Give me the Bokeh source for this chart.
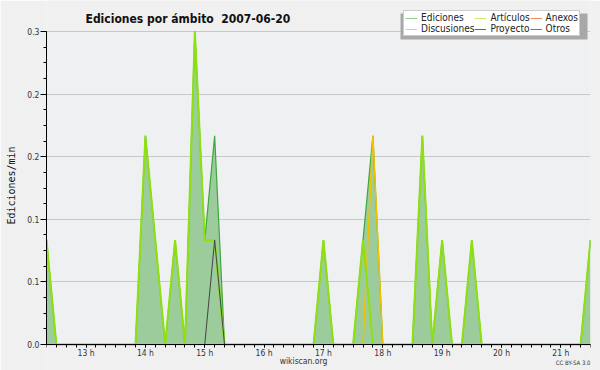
from bokeh.plotting import figure
from bokeh.models import (FixedTicker, Label, Legend, LegendItem, ColumnDataSource,
                          PrintfTickFormatter, CustomJSTickFormatter, Range1d, BoxAnnotation)
from bokeh.embed import file_html
from bokeh.resources import INLINE

# ---- data: 10-minute bins from 12:20 to 21:30 (hours as decimals) ----
inicio = 12 + 20 / 60
fin = 21.5
paso = 1 / 6
horas = [inicio + i * paso for i in range(56)]

ediciones = [
    0.1, 0, 0, 0, 0, 0, 0, 0, 0, 0,
    0.2, 0.1, 0, 0.1, 0, 0.3, 0.1, 0.2, 0, 0,
    0, 0, 0, 0, 0, 0, 0, 0, 0.1, 0,
    0, 0, 0.1, 0.2, 0, 0, 0, 0, 0.2, 0,
    0.1, 0, 0, 0.1, 0, 0, 0, 0, 0, 0,
    0, 0, 0, 0, 0, 0.1]
articulos = [
    0.1, 0, 0, 0, 0, 0, 0, 0, 0, 0,
    0.2, 0.1, 0, 0.1, 0, 0.3, 0.1, 0.1, 0, 0,
    0, 0, 0, 0, 0, 0, 0, 0, 0.1, 0,
    0, 0, 0.1, 0, 0, 0, 0, 0, 0.2, 0,
    0.1, 0, 0, 0.1, 0, 0, 0, 0, 0, 0,
    0, 0, 0, 0, 0, 0.1]
discusiones = [
    0, 0, 0, 0, 0, 0, 0, 0, 0, 0,
    0, 0, 0, 0, 0, 0, 0, 0, 0, 0,
    0, 0, 0, 0, 0, 0, 0, 0, 0, 0,
    0, 0, 0, 0.2, 0, 0, 0, 0, 0, 0,
    0, 0, 0, 0, 0, 0, 0, 0, 0, 0,
    0, 0, 0, 0, 0, 0]
proyecto = [
    0, 0, 0, 0, 0, 0, 0, 0, 0, 0,
    0, 0, 0, 0, 0, 0, 0, 0.1, 0, 0,
    0, 0, 0, 0, 0, 0, 0, 0, 0, 0,
    0, 0, 0, 0, 0, 0, 0, 0, 0, 0,
    0, 0, 0, 0, 0, 0, 0, 0, 0, 0,
    0, 0, 0, 0, 0, 0]
anexos = [
    0, 0, 0, 0, 0, 0, 0, 0, 0, 0,
    0, 0, 0, 0, 0, 0, 0, 0, 0, 0,
    0, 0, 0, 0, 0, 0, 0, 0, 0, 0,
    0, 0, 0, 0, 0, 0, 0, 0, 0, 0,
    0, 0, 0, 0, 0, 0, 0, 0, 0, 0,
    0, 0, 0, 0, 0, 0]
otros = [
    0, 0, 0, 0, 0, 0, 0, 0, 0, 0,
    0, 0, 0, 0, 0, 0, 0, 0, 0, 0,
    0, 0, 0, 0, 0, 0, 0, 0, 0, 0,
    0, 0, 0, 0, 0, 0, 0, 0, 0, 0,
    0, 0, 0, 0, 0, 0, 0, 0, 0, 0,
    0, 0, 0, 0, 0, 0]

y_ticks = [0, 0.06, 0.12, 0.18, 0.24, 0.3]
y_max = 0.3
x_ticks = [13, 14, 15, 16, 17, 18, 19, 20, 21]
series_names = ["Ediciones", "Discusiones", "Artículos", "Proyecto", "Anexos", "Otros"]
legend_colors = ["#8fcf8f", "#f5d040", "#cdef5f", "#666666", "#f08858", "#9a50ee"]

src = ColumnDataSource(dict(x=horas, ed=ediciones, art=articulos, dis=discusiones,
                            pro=proyecto, anx=anexos, otr=otros))

FONT = "DejaVu Sans Condensed, DejaVu Sans"

# layout: chart area spans y 31..344 px for 0..0.3; frame extends to the canvas edges
W, H = 600, 370
left_px, right_px, top_px, bottom_px = 46, 590, 31, 344
ppu = (bottom_px - top_px) / y_max
y_start = -(H - bottom_px) / ppu
y_end = y_max + top_px / ppu

p = figure(width=W, height=H, output_backend="svg", toolbar_location=None, title=None,
           x_range=Range1d(inicio, fin), y_range=Range1d(y_start, y_end),
           min_border_left=left_px, min_border_right=W - right_px, min_border_top=0,
           min_border_bottom=0)
p.border_fill_color = "#f0f0f0"
p.background_fill_color = "#f0f0f0"
p.outline_line_color = None

# plot area background (underneath the grid)
area_bg = BoxAnnotation(left=inicio, right=fin, bottom=0, top=y_max,
                        fill_color="#eef0f2", fill_alpha=1, line_color=None,
                        level="underlay")
p.center = [area_bg] + list(p.center)

# legend swatch renderers (thin lines, they lie on the zero line under the axis)
legend_renderers = []
for col, key in zip(legend_colors, ["anx", "anx", "anx", "anx", "anx", "otr"]):
    legend_renderers.append(p.line(x="x", y=key, source=src, line_color=col, line_width=1))

# series
p.varea(x="x", y1=0, y2="ed", source=src, fill_color="#9ccb9c")
p.line(x="x", y="ed", source=src, line_color="#3aa83a", line_width=1.2)
p.line(x="x", y="dis", source=src, line_color="#f2c200", line_width=1.5)
p.line(x="x", y="art", source=src, line_color="#8ee010", line_width=2)
p.line(x="x", y="pro", source=src, line_color="#444444", line_width=1)

# axes
p.xgrid.visible = False
p.ygrid.grid_line_color = "#c8c8c8"
p.yaxis.ticker = FixedTicker(ticks=y_ticks,
                             minor_ticks=[i * 0.015 for i in range(21)])
p.yaxis.formatter = PrintfTickFormatter(format="%.1f")
p.yaxis.bounds = (0, y_max)
p.xaxis.ticker = FixedTicker(ticks=x_ticks,
                             minor_ticks=[inicio + i * paso for i in range(56)])
p.xaxis.formatter = CustomJSTickFormatter(code="return Math.round(tick) + ' h'")
p.xaxis.bounds = (inicio, fin)
p.xaxis.fixed_location = 0
for ax in (p.xaxis[0], p.yaxis[0]):
    ax.axis_line_color = "black"
    ax.major_tick_line_color = "black"
    ax.minor_tick_line_color = "black"
    ax.major_tick_in = 0
    ax.minor_tick_in = 0
    ax.major_label_text_font = FONT
    ax.major_label_text_font_size = "8.5px"
    ax.major_label_text_color = "#333333"
p.yaxis.major_tick_out = 6
p.yaxis.minor_tick_out = 3
p.yaxis.major_label_standoff = 1
p.xaxis.major_tick_out = 3
p.xaxis.minor_tick_out = 3
p.xaxis.major_label_standoff = 0
p.yaxis.axis_label = "Ediciones/min"
p.yaxis.axis_label_text_font = "DejaVu Sans Mono"
p.yaxis.axis_label_text_font_style = "normal"
p.yaxis.axis_label_text_font_size = "10px"
p.yaxis.axis_label_text_color = "#111111"
p.yaxis.axis_label_standoff = 7

# texts (screen units relative to the frame's bottom-left corner)
p.add_layout(Label(x=85 - left_px, y=H - 18.5, x_units="screen", y_units="screen",
                   text="Ediciones por ámbito\u00a0 2007-06-20", text_font=FONT,
                   text_font_style="bold", text_font_size="12px",
                   text_baseline="alphabetic", text_color="#111111"))
p.add_layout(Label(x=303 - left_px, y=H - 360, x_units="screen", y_units="screen",
                   text="wikiscan.org", text_font=FONT, text_font_size="8.5px",
                   text_align="center", text_baseline="middle", text_color="#333333"))
p.add_layout(Label(x=right_px - left_px, y=H - 362, x_units="screen", y_units="screen",
                   text="CC BY-SA 3.0", text_font=FONT, text_font_size="6px",
                   text_align="right", text_baseline="middle", text_color="#333333"))

# legend shadow
p.add_layout(BoxAnnotation(left=400 - left_px, right=587 - left_px, top=H - 13, bottom=H - 39,
                           left_units="screen", right_units="screen",
                           top_units="screen", bottom_units="screen",
                           fill_color="#a8a8a8", fill_alpha=1, line_color=None))

# legend
items = [LegendItem(label=name, renderers=[r])
         for name, r in zip(series_names, legend_renderers)]
legend = Legend(items=items, location=(403 - left_px, H - 36), orientation="vertical",
                ncols=3, label_text_font=FONT, label_text_font_size="10px",
                label_text_color="#222222", glyph_width=12, glyph_height=8,
                label_height=8, label_standoff=4, spacing=0, padding=1, margin=0,
                background_fill_color="white", background_fill_alpha=1,
                border_line_color="#999999", border_line_width=1)
p.add_layout(legend, "center")

open("out.html", "w").write(file_html(p, INLINE))
